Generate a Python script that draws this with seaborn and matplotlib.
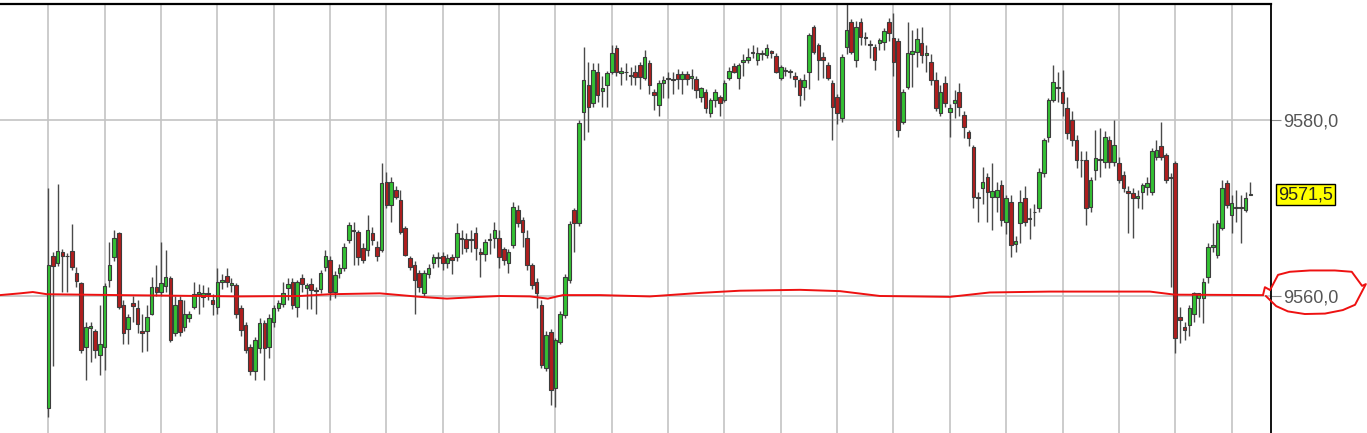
import numpy as np
import pandas as pd
import seaborn as sns
import matplotlib.pyplot as plt
from matplotlib.ticker import FuncFormatter, FixedLocator

# 5-minute candles, one list per field
opens = [
    9547.3, 9564.5, 9563.8, 9565.0, 9564.5, 9565.1, 9562.6, 9561.5, 9554.2, 9556.4,
    9556.0, 9553.3, 9554.2, 9561.8, 9564.4, 9567.2, 9559.0, 9556.3, 9559.2, 9558.6,
    9556.0, 9556.0, 9558.0, 9561.0, 9560.5, 9561.1, 9562.0, 9555.8, 9559.5, 9556.5,
    9557.5, 9558.8, 9560.2, 9559.9, 9560.3, 9559.6, 9558.8, 9561.6, 9562.3, 9561.2,
    9561.3, 9558.6, 9556.7, 9554.2, 9551.5, 9554.1, 9556.9, 9554.2, 9557.0, 9558.6,
    9559.1, 9560.9, 9561.6, 9558.8, 9562.0, 9560.9, 9561.4, 9560.7, 9560.8, 9563.3,
    9564.1, 9560.5, 9562.6, 9563.2, 9566.4, 9567.5, 9567.3, 9565.5, 9565.2, 9567.2,
    9565.6, 9565.2, 9573.0, 9570.3, 9572.0, 9570.9, 9567.7, 9564.3, 9563.5, 9562.6,
    9560.3, 9562.5, 9563.7, 9564.4, 9564.5, 9563.7, 9564.4, 9564.4, 9566.6, 9566.5,
    9566.4, 9567.2, 9565.0, 9564.8, 9566.4, 9566.6, 9566.6, 9565.3, 9563.7, 9565.8,
    9569.8, 9568.6, 9566.6, 9563.5, 9561.6, 9559.0, 9551.8, 9555.9, 9549.5, 9554.8,
    9557.8, 9561.8, 9569.8, 9568.3, 9580.9, 9584.0, 9581.9, 9585.5, 9583.3, 9584.0,
    9585.5, 9588.2, 9585.3, 9585.5, 9585.0, 9585.5, 9586.3, 9584.8, 9586.5, 9583.2,
    9581.7, 9584.2, 9584.7, 9584.7, 9585.2, 9584.7, 9585.2, 9584.8, 9584.7, 9582.6,
    9583.2, 9580.8, 9582.3, 9582.6, 9582.3, 9584.8, 9586.1, 9584.8, 9586.6, 9586.8,
    9587.6, 9586.8, 9587.5, 9587.4, 9587.8, 9587.3, 9584.8, 9585.6, 9585.5, 9585.0,
    9584.5, 9583.8, 9585.5, 9590.6, 9588.5, 9587.2, 9586.3, 9584.2, 9582.6, 9580.2,
    9588.3, 9591.1, 9586.8, 9591.1, 9589.4, 9588.6, 9588.3, 9588.7, 9588.9, 9591.1,
    9589.3, 9589.0, 9579.8, 9583.8, 9587.5, 9587.7, 9588.7, 9587.4, 9586.6, 9584.5,
    9580.8, 9584.2, 9580.9, 9581.9, 9583.2, 9580.6, 9578.6, 9576.9, 9571.3, 9572.3,
    9573.5, 9571.3, 9571.3, 9572.6, 9568.4, 9570.7, 9565.9, 9568.3, 9571.1, 9568.8,
    9569.5, 9570.0, 9574.0, 9578.1, 9582.3, 9583.6, 9583.2, 9581.4, 9580.0, 9577.7,
    9575.5, 9575.5, 9570.1, 9574.3, 9575.5, 9575.2, 9577.7, 9575.2, 9575.1, 9573.8,
    9571.9, 9571.7, 9571.1, 9571.8, 9572.4, 9571.8, 9575.8, 9577.0, 9576.0, 9573.5,
    9575.1, 9557.6, 9556.5, 9556.7, 9558.0, 9559.8, 9559.8, 9562.2, 9565.6, 9564.7,
    9567.7, 9572.8, 9569.2, 9570.0, 9570.0, 9569.8, 9571.5,
]
highs = [
    9572.3, 9565.0, 9572.7, 9565.3, 9564.9, 9568.2, 9563.3, 9561.6, 9557.0, 9557.0,
    9556.2, 9559.0, 9561.5, 9566.1, 9567.5, 9567.3, 9559.5, 9558.0, 9560.0, 9559.6,
    9558.0, 9559.0, 9562.2, 9563.5, 9566.1, 9565.2, 9562.3, 9560.0, 9560.0, 9559.5,
    9558.3, 9561.6, 9561.4, 9561.3, 9561.0, 9560.2, 9563.2, 9562.5, 9563.2, 9562.0,
    9561.5, 9559.0, 9557.0, 9554.5, 9555.3, 9557.5, 9557.3, 9558.0, 9559.0, 9559.6,
    9561.6, 9562.0, 9562.0, 9561.8, 9562.5, 9561.5, 9562.0, 9561.0, 9563.0, 9565.2,
    9564.5, 9562.8, 9563.6, 9566.0, 9568.4, 9568.4, 9567.5, 9566.0, 9569.2, 9567.8,
    9566.2, 9575.1, 9574.1, 9573.5, 9572.5, 9572.0, 9568.0, 9564.6, 9564.0, 9563.0,
    9563.0, 9563.6, 9564.8, 9565.0, 9565.0, 9564.8, 9564.8, 9568.3, 9567.5, 9567.2,
    9567.5, 9567.8, 9565.5, 9566.5, 9567.2, 9568.4, 9567.5, 9565.6, 9565.3, 9570.7,
    9570.3, 9569.0, 9567.5, 9563.8, 9562.0, 9559.5, 9556.0, 9556.2, 9555.2, 9558.3,
    9562.5, 9568.5, 9570.0, 9580.0, 9588.3, 9586.6, 9586.5, 9586.5, 9585.0, 9585.6,
    9588.5, 9588.5, 9586.0, 9586.5, 9586.0, 9586.2, 9586.6, 9588.0, 9586.8, 9583.5,
    9584.5, 9585.0, 9585.5, 9585.5, 9585.8, 9585.6, 9585.6, 9585.8, 9585.0, 9583.8,
    9583.5, 9582.5, 9583.5, 9582.8, 9584.5, 9586.0, 9586.5, 9586.5, 9587.5, 9588.2,
    9588.5, 9588.3, 9588.0, 9588.6, 9588.0, 9587.6, 9586.2, 9586.0, 9585.8, 9585.5,
    9584.8, 9585.2, 9589.9, 9590.8, 9588.8, 9587.7, 9586.6, 9584.5, 9583.0, 9587.5,
    9593.2, 9591.5, 9591.2, 9591.6, 9590.0, 9589.1, 9588.6, 9589.3, 9590.5, 9591.6,
    9592.2, 9589.3, 9583.5, 9591.1, 9590.2, 9590.5, 9590.6, 9588.5, 9587.5, 9585.5,
    9584.0, 9585.0, 9581.8, 9583.4, 9584.2, 9581.0, 9578.9, 9577.2, 9571.8, 9574.7,
    9574.0, 9575.1, 9573.0, 9573.2, 9571.5, 9571.5, 9566.8, 9572.0, 9572.5, 9570.0,
    9570.5, 9574.5, 9578.0, 9582.5, 9586.3, 9585.5, 9585.7, 9582.6, 9581.0, 9578.3,
    9576.5, 9576.5, 9573.5, 9578.9, 9579.1, 9578.8, 9578.2, 9580.0, 9575.8, 9574.2,
    9572.5, 9572.3, 9572.0, 9572.8, 9573.5, 9576.8, 9577.7, 9579.8, 9576.3, 9574.0,
    9575.3, 9558.8, 9557.0, 9559.0, 9560.5, 9560.3, 9562.0, 9566.0, 9568.3, 9568.6,
    9573.2, 9573.2, 9571.5, 9572.0, 9571.5, 9571.8, 9573.0,
]
lows = [
    9546.2, 9552.0, 9563.4, 9560.4, 9560.5, 9563.0, 9561.0, 9553.5, 9550.5, 9552.5,
    9552.9, 9551.0, 9551.6, 9561.0, 9564.0, 9558.5, 9554.6, 9554.6, 9557.0, 9555.8,
    9553.6, 9553.8, 9557.8, 9560.0, 9560.0, 9560.5, 9554.8, 9555.5, 9555.5, 9556.0,
    9557.0, 9558.5, 9558.0, 9558.8, 9559.5, 9557.8, 9558.0, 9560.8, 9561.0, 9560.5,
    9557.5, 9555.5, 9553.5, 9551.0, 9550.5, 9553.5, 9550.5, 9553.0, 9556.5, 9558.3,
    9558.8, 9559.5, 9558.5, 9557.6, 9560.5, 9558.5, 9558.5, 9558.0, 9560.3, 9562.8,
    9559.5, 9559.8, 9562.0, 9562.8, 9566.0, 9563.5, 9563.5, 9563.8, 9564.5, 9565.8,
    9564.0, 9565.0, 9570.0, 9568.4, 9571.0, 9567.0, 9564.5, 9563.0, 9558.0, 9560.5,
    9560.0, 9562.0, 9563.2, 9563.3, 9563.0, 9563.2, 9562.5, 9564.0, 9564.8, 9565.0,
    9565.0, 9564.1, 9562.2, 9564.0, 9564.8, 9565.5, 9563.2, 9563.5, 9562.6, 9565.5,
    9567.8, 9565.6, 9563.0, 9560.8, 9558.6, 9551.8, 9551.5, 9547.6, 9547.4, 9554.5,
    9557.5, 9561.5, 9565.0, 9568.0, 9577.7, 9578.6, 9581.5, 9582.0, 9581.5, 9581.5,
    9585.2, 9585.0, 9584.0, 9584.5, 9584.0, 9584.0, 9583.5, 9584.5, 9583.0, 9581.1,
    9580.5, 9582.5, 9582.5, 9583.0, 9583.5, 9583.0, 9584.0, 9583.5, 9582.5, 9582.0,
    9580.8, 9580.3, 9581.5, 9580.5, 9582.0, 9584.5, 9585.3, 9583.5, 9585.0, 9586.5,
    9587.0, 9586.2, 9586.8, 9587.0, 9587.0, 9585.3, 9584.5, 9585.0, 9584.8, 9583.8,
    9581.6, 9582.3, 9583.5, 9587.5, 9584.5, 9584.8, 9584.5, 9577.7, 9579.6, 9579.8,
    9587.5, 9587.5, 9586.0, 9588.5, 9588.5, 9587.0, 9585.7, 9588.0, 9588.0, 9589.0,
    9585.0, 9578.1, 9579.5, 9583.5, 9583.8, 9586.0, 9586.5, 9585.5, 9584.0, 9581.0,
    9580.5, 9581.5, 9578.1, 9580.2, 9580.5, 9578.0, 9577.0, 9570.0, 9568.4, 9570.5,
    9568.4, 9567.5, 9569.5, 9568.0, 9567.0, 9564.4, 9565.0, 9566.0, 9568.0, 9566.5,
    9568.0, 9569.5, 9573.5, 9577.5, 9582.0, 9582.0, 9580.5, 9577.8, 9577.0, 9574.5,
    9573.5, 9568.1, 9569.5, 9573.2, 9573.5, 9574.5, 9574.5, 9574.8, 9572.8, 9571.8,
    9567.2, 9566.6, 9570.0, 9569.9, 9571.5, 9571.5, 9575.5, 9575.5, 9572.8, 9561.0,
    9553.5, 9554.7, 9555.0, 9555.5, 9557.0, 9557.6, 9556.9, 9561.5, 9565.0, 9564.3,
    9567.5, 9570.0, 9567.2, 9568.4, 9566.0, 9569.5, 9571.5,
]
closes = [
    9563.5, 9563.4, 9565.1, 9564.5, 9564.6, 9563.3, 9561.7, 9553.9, 9556.5, 9556.6,
    9553.9, 9554.5, 9561.1, 9563.5, 9566.6, 9558.8, 9555.8, 9557.6, 9558.9, 9556.8,
    9555.8, 9557.6, 9561.0, 9560.5, 9561.5, 9562.2, 9555.0, 9559.0, 9555.9, 9558.0,
    9558.0, 9560.2, 9560.4, 9560.3, 9560.2, 9559.1, 9561.6, 9561.8, 9561.6, 9561.5,
    9558.0, 9556.1, 9553.9, 9551.5, 9555.0, 9556.9, 9554.1, 9557.5, 9558.6, 9559.2,
    9560.3, 9561.4, 9559.0, 9561.6, 9561.4, 9561.3, 9560.7, 9560.6, 9562.6, 9564.5,
    9560.5, 9562.4, 9563.2, 9565.6, 9568.1, 9567.4, 9564.4, 9564.1, 9567.5, 9566.4,
    9564.5, 9572.8, 9570.3, 9573.0, 9571.3, 9567.3, 9564.7, 9563.3, 9561.8, 9561.0,
    9562.6, 9563.2, 9564.4, 9564.3, 9563.7, 9564.3, 9564.1, 9567.2, 9566.5, 9565.5,
    9566.5, 9565.5, 9564.8, 9566.1, 9566.5, 9567.5, 9564.4, 9564.1, 9565.0, 9570.1,
    9568.3, 9567.3, 9563.5, 9561.2, 9560.3, 9552.2, 9555.6, 9549.3, 9555.0, 9558.0,
    9562.2, 9568.2, 9568.3, 9579.7, 9584.5, 9581.5, 9585.7, 9582.8, 9583.6, 9585.3,
    9587.6, 9585.5, 9585.6, 9585.4, 9585.1, 9584.9, 9584.9, 9587.2, 9584.0, 9582.8,
    9584.2, 9584.5, 9584.7, 9584.6, 9584.7, 9585.2, 9584.7, 9585.0, 9583.4, 9583.6,
    9581.4, 9582.3, 9583.2, 9581.9, 9584.2, 9585.6, 9585.5, 9586.3, 9586.8, 9587.2,
    9587.6, 9587.6, 9587.5, 9588.2, 9587.6, 9585.5, 9586.0, 9585.6, 9585.5, 9584.7,
    9582.8, 9584.5, 9589.7, 9587.7, 9586.8, 9586.8, 9584.8, 9581.5, 9580.8, 9587.2,
    9590.2, 9587.7, 9590.6, 9589.4, 9589.3, 9588.5, 9586.8, 9589.1, 9590.1, 9589.9,
    9586.6, 9578.9, 9583.2, 9587.6, 9587.8, 9589.2, 9587.4, 9587.6, 9584.5, 9581.4,
    9583.2, 9581.9, 9581.4, 9582.3, 9581.5, 9579.2, 9578.0, 9571.3, 9571.1, 9573.0,
    9571.8, 9571.9, 9572.0, 9568.6, 9571.1, 9565.8, 9566.2, 9570.7, 9568.4, 9568.9,
    9569.6, 9574.1, 9577.7, 9582.3, 9584.3, 9583.7, 9581.9, 9578.5, 9577.7, 9575.5,
    9575.4, 9570.0, 9573.2, 9575.7, 9575.6, 9578.1, 9575.2, 9577.2, 9573.2, 9572.3,
    9571.7, 9571.1, 9571.4, 9572.6, 9572.8, 9576.5, 9576.6, 9575.8, 9573.2, 9573.4,
    9555.2, 9557.3, 9556.1, 9558.6, 9560.3, 9560.3, 9561.6, 9565.6, 9565.8, 9568.3,
    9572.3, 9570.3, 9570.6, 9570.0, 9570.1, 9571.1, 9571.5,
]

price_ticks = [9560.0, 9580.0]
last_price = 9571.5

# red freehand marking on the screenshot (x in candle units, y in price)
mark_x = [-10.3, -6.0, -3.3, -0.3, 15.3, 40.8, 53.6, 60.0, 70.6, 79.2, 84.9, 91.9,
          96.2, 102.6, 106.4, 109.6, 117.5, 128.1, 138.8, 147.3, 160.1, 168.6,
          177.1, 192.0, 200.5, 213.3, 234.6, 239.9, 258.7]
mark_y = [9560.1, 9560.3, 9560.45, 9560.2, 9560.1, 9559.95, 9560.0, 9560.2, 9560.3,
          9559.9, 9559.7, 9559.9, 9560.0, 9559.95, 9559.7, 9560.1, 9560.1, 9559.95,
          9560.35, 9560.6, 9560.7, 9560.55, 9560.0, 9559.9, 9560.4, 9560.5, 9560.5,
          9560.15, 9560.1]
ring_x = [258.7, 259.1, 260.2, 261.9, 264.4, 268.7, 274.0, 277.6, 279.8, 280.6,
          280.6, 279.8, 278.3, 275.7, 271.9, 267.6, 264.0, 261.5, 260.2, 259.3]
ring_y = [9560.1, 9561.0, 9561.8, 9562.4, 9562.75, 9562.9, 9562.9, 9562.75, 9562.4,
          9561.8, 9560.9, 9559.9, 9559.0, 9558.4, 9558.0, 9557.95, 9558.25, 9558.85,
          9559.55, 9560.0]

df = pd.DataFrame({"open": opens, "high": highs, "low": lows, "close": closes})
df["t"] = np.arange(len(df))
df["up"] = df["close"] >= df["open"]
df["base"] = df[["open", "close"]].min(axis=1)
df["size"] = (df["close"] - df["open"]).abs().clip(lower=0.08)

sns.set_style("white")
plt.rcParams["font.family"] = ["Liberation Sans", "DejaVu Sans"]

fig = plt.figure(figsize=(13.67, 4.33), dpi=100)
ax = fig.add_axes([0, 0, 1271 / 1367, 429 / 433])

# hourly grid (every 12 candles) and price grid
for t in range(0, len(df), 12):
    ax.axvline(t, color="#c4c4c4", lw=1.2, zorder=0)
for p in price_ticks:
    ax.axhline(p, color="#c4c4c4", lw=1.2, zorder=0)

ax.vlines(df["t"], df["low"], df["high"], color="#4a4a4a", lw=1.0, zorder=2)
body_colors = np.where(df["up"], "#33c233", "#b01e1e")
ax.bar(df["t"], df["size"], bottom=df["base"], width=0.76, color=body_colors,
       edgecolor="#3c3c3c", linewidth=0.8, zorder=3)

sns.lineplot(x=mark_x, y=mark_y, sort=False, color="#ee1111", lw=1.4, ax=ax, zorder=5)
sns.lineplot(x=ring_x + ring_x[:1], y=ring_y + ring_y[:1], sort=False,
             color="#ee1111", lw=1.4, ax=ax, zorder=5)
for ln in ax.lines[-2:]:
    ln.set_clip_on(False)
    ln.set_solid_joinstyle("round")

ax.set_xlim(-10.29, 260.4)
ax.set_ylim(9544.43, 9593.18)
ax.set_xticks([])
ax.yaxis.tick_right()
ax.yaxis.set_major_locator(FixedLocator(price_ticks))
ax.yaxis.set_major_formatter(FuncFormatter(lambda v, pos: f"{v:.1f}".replace(".", ",")))
ax.tick_params(axis="y", which="major", length=7.5, width=0.8, color="#8a8a8a",
               pad=1.5, labelsize=13, labelcolor="#555555", right=True, left=False)
ax.set_xlabel("")
ax.set_ylabel("")

for side in ["left", "bottom"]:
    ax.spines[side].set_visible(False)
ax.spines["top"].set_color("black")
ax.spines["top"].set_linewidth(1.6)
ax.spines["right"].set_color("black")
ax.spines["right"].set_linewidth(1.3)

ax.text(1.0055, last_price, f"{last_price:.1f}".replace(".", ","),
        transform=ax.get_yaxis_transform(), ha="left", va="center",
        fontsize=13, color="#222222",
        bbox=dict(boxstyle="square,pad=0.12", facecolor="#ffff00", edgecolor="black", lw=1.0))

fig.savefig("out.png", dpi=100)
